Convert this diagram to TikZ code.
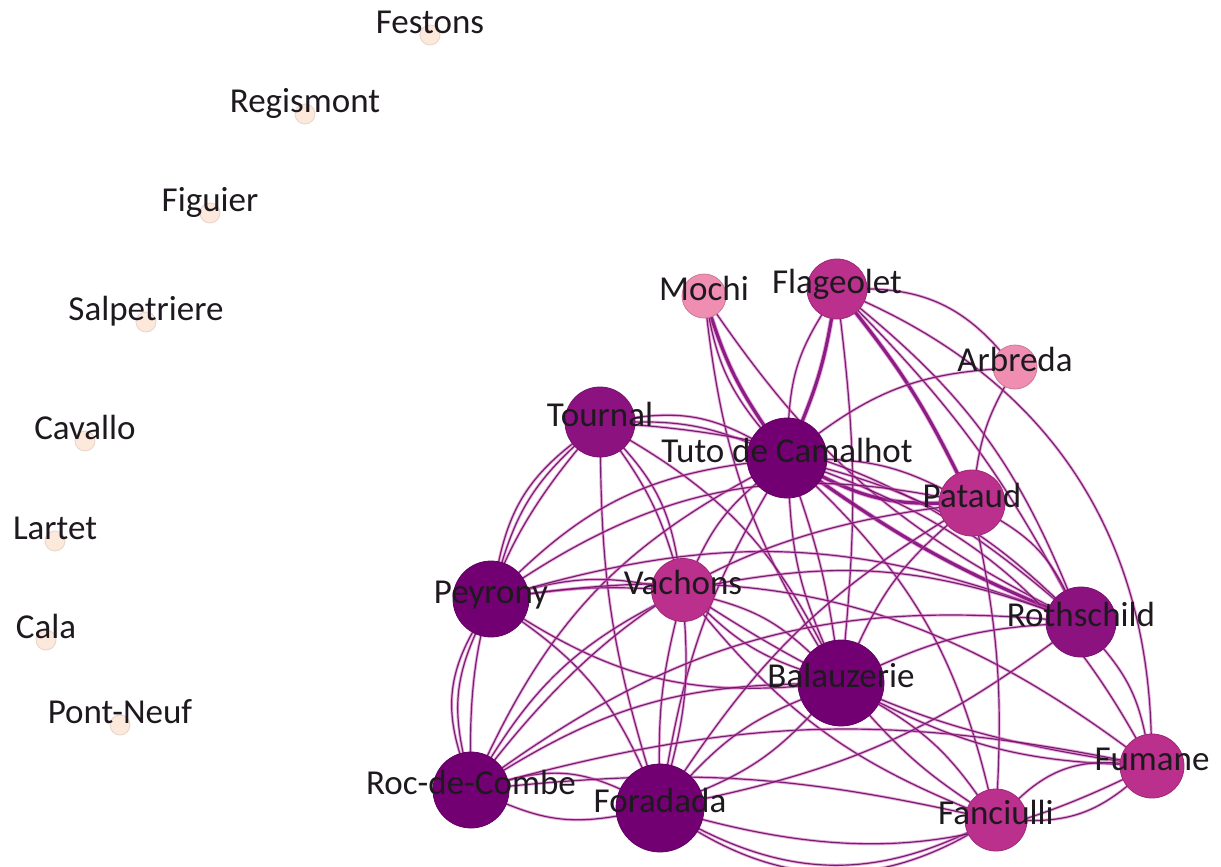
\documentclass[tikz,border=0pt]{standalone}
\usepackage{fontspec}
\setmainfont{Carlito}
\usetikzlibrary{backgrounds}
\definecolor{cdark}{RGB}{115,0,115}
\definecolor{cmid}{RGB}{140,18,128}
\definecolor{cmag}{RGB}{186,48,140}
\definecolor{clight}{RGB}{240,142,178}
\definecolor{ciso}{RGB}{252,233,220}
\definecolor{cisoline}{RGB}{232,212,200}
\definecolor{edgedark}{RGB}{105,18,100}
\definecolor{edgelight}{RGB}{220,90,190}
\definecolor{txt}{RGB}{30,25,30}
\begin{document}
\begin{tikzpicture}[x=1pt,y=-1pt,
  nd/.style={circle,inner sep=0pt,outer sep=0pt,line width=0.8pt},
  ndark/.style={nd,fill=cdark,draw=cdark!85!black},
  nmid/.style={nd,fill=cmid,draw=cmid!85!black},
  nmag/.style={nd,fill=cmag,draw=cmag!85!black},
  nlight/.style={nd,fill=clight,draw=clight!85!black},
  niso/.style={nd,fill=ciso,draw=cisoline,minimum size=20},
  lbl/.style={font=\fontsize{35}{38}\selectfont,text=txt,inner sep=0pt,
    text height=0.68em,text depth=0.2em,yshift=-2pt},
  isolbl/.style={lbl,yshift=6pt},
  lnk/.style={draw=edgedark,line width=1.2pt,opacity=0.9,
    preaction={draw=edgelight,line width=3pt,opacity=0.5}},
  lnkthick/.style={draw=edgedark!85!magenta,line width=3.2pt,opacity=0.9,
    preaction={draw=edgelight,line width=5pt,opacity=0.5}}]
\useasboundingbox (0,0) rectangle (1221,867);

% isolated nodes
\node[niso,label={[isolbl]center:Festons}] (fes) at (430,35) {};
\node[niso,label={[isolbl]center:Regismont}] (reg) at (305,114) {};
\node[niso,label={[isolbl]center:Figuier}] (fig) at (210,213) {};
\node[niso,label={[isolbl]center:Salpetriere}] (sal) at (146,322) {};
\node[niso,label={[isolbl]center:Cavallo}] (cav) at (85,441) {};
\node[niso,label={[isolbl]center:Lartet}] (lar) at (55,541) {};
\node[niso,label={[isolbl]center:Cala}] (cal) at (46,640) {};
\node[niso,label={[isolbl]center:Pont-Neuf}] (pon) at (120,725) {};

% network nodes
\node[nlight,minimum size=44,label={[lbl]center:Mochi}] (moc) at (704,296) {};
\node[nmag,minimum size=60,label={[lbl]center:Flageolet}] (fla) at (837,289) {};
\node[nlight,minimum size=44,label={[lbl]center:Arbreda}] (arb) at (1015,367) {};
\node[nmid,minimum size=70,label={[lbl]center:Tournal}] (tou) at (600,422) {};
\node[ndark,minimum size=80,label={[lbl]center:Tuto de Camalhot}] (tut) at (787,458) {};
\node[nmag,minimum size=66,label={[lbl]center:Pataud}] (pat) at (972,503) {};
\node[ndark,minimum size=76,label={[lbl]center:Peyrony}] (pey) at (491,599) {};
\node[nmag,minimum size=63,label={[lbl]center:Vachons}] (vac) at (683,590) {};
\node[nmid,minimum size=70,label={[lbl]center:Rothschild}] (rot) at (1081,622) {};
\node[ndark,minimum size=86,label={[lbl]center:Balauzerie}] (bal) at (841,683) {};
\node[ndark,minimum size=76,label={[lbl]center:Roc-de-Combe}] (rdc) at (471,790) {};
\node[ndark,minimum size=88,label={[lbl]center:Foradada}] (for) at (660,808) {};
\node[nmag,minimum size=64,label={[lbl]center:Fumane}] (fum) at (1152,766) {};
\node[nmag,minimum size=62,label={[lbl]center:Fanciulli}] (fan) at (996,820) {};

\begin{scope}[on background layer]
\fill[white] (0,0) rectangle (1221,867);
% Mochi
\draw[lnkthick] (moc) to[bend right=8] (tut);
\draw[lnk] (moc) to[bend right=14] (tut);
\draw[lnk] (moc) to[bend right=12] (bal);
\draw[lnk] (moc) to[bend right=14] (rot);
% Flageolet
\draw[lnkthick] (fla) to[bend left=6] (tut);
\draw[lnk] (tut) to[bend left=14] (fla);
\draw[lnk] (fla) to[bend left=24] (arb);
\draw[lnk] (fla) to[bend left=32] (fum);
\draw[lnkthick] (fla) to[bend left=6] (pat);
\draw[lnk] (fla) to[bend left=14] (rot);
\draw[lnk] (fla) to[bend left=8] (rot);
\draw[lnk] (fla) to[bend left=6] (bal);
% Arbreda
\draw[lnk] (tut) to[bend left=16] (arb);
\draw[lnk] (arb) to[bend right=10] (pat);
% Tournal
\draw[lnk] (pey) to[bend left=20] (tou);
\draw[lnk] (pey) to[bend left=15] (tou);
\draw[lnk] (rdc) to[bend left=20] (tou);
\draw[lnk] (tou) to[bend left=18] (tut);
\draw[lnk] (tou) to[bend left=11] (tut);
\draw[lnk] (tou) to[bend left=16] (vac);
\draw[lnk] (tou) to[bend left=9] (vac);
\draw[lnk] (tou) to[bend right=8] (for);
\draw[lnk] (tou) to[bend left=16] (bal);
\draw[lnk] (tou) to[bend left=18] (rot);
% Tuto
\draw[lnkthick] (pat) to[bend left=14] (tut);
\draw[lnk] (tut) to[bend left=12] (pat);
\draw[lnkthick] (rot) to[bend left=6] (tut);
\draw[lnk] (tut) to[bend left=14] (rot);
\draw[lnk] (tut) to[bend right=10] (bal);
\draw[lnk] (tut) to[bend left=5] (bal);
\draw[lnk] (tut) to[bend right=10] (for);
\draw[lnk] (pey) to[bend left=18] (tut);
\draw[lnk] (rdc) to[bend left=18] (tut);
\draw[lnk] (tut) to[bend left=16] (fan);
\draw[lnk] (tut) to[bend left=20] (fum);
\draw[lnk] (tut) to[bend right=12] (vac);
% Peyrony
\draw[lnk] (rdc) to[bend left=18] (pey);
\draw[lnk] (rdc) to[bend left=23] (pey);
\draw[lnk] (pey) to[bend left=12] (vac);
\draw[lnk] (pey) to[bend left=5] (vac);
\draw[lnk] (bal) to[bend left=18] (pey);
\draw[lnk] (pey) to[bend left=15] (for);
\draw[lnk] (pey) to[bend left=18] (rot);
\draw[lnk] (pey) to[bend left=22] (fum);
\draw[lnk] (pey) to[bend left=22] (pat);
% Vachons
\draw[lnk] (vac) to[bend left=9] (for);
\draw[lnk] (vac) to[bend right=7] (for);
\draw[lnk] (vac) to[bend left=14] (bal);
\draw[lnk] (vac) to[bend right=12] (bal);
\draw[lnk] (rdc) to[bend left=15] (vac);
\draw[lnk] (vac) to[bend left=15] (rot);
\draw[lnk] (vac) to[bend right=12] (fum);
\draw[lnk] (vac) to[bend right=14] (fan);
% Roc-de-Combe
\draw[lnk] (rdc) to[bend left=20] (for);
\draw[lnk] (for) to[bend left=16] (rdc);
\draw[lnk] (rdc) to[bend left=15] (bal);
\draw[lnk] (rdc) to[bend left=20] (rot);
\draw[lnk] (rdc) to[bend left=22] (pat);
\draw[lnk] (rdc) to[bend left=13] (fum);
\draw[lnk] (rdc) to[bend left=9] (fan);
% Foradada
\draw[lnk] (for) to[bend left=12] (bal);
\draw[lnk] (for) to[bend right=12] (bal);
\draw[lnk] (fan) to[bend left=26] (for);
\draw[lnk] (fan) to[bend left=30] (for);
\draw[lnk] (fum) to[bend left=20] (for);
\draw[lnk] (for) to[bend left=12] (pat);
\draw[lnk] (rot) to[bend left=12] (for);
% Balauzerie
\draw[lnk] (bal) to[bend left=12] (fan);
\draw[lnk] (bal) to[bend right=7] (fan);
\draw[lnk] (bal) to[bend right=12] (fum);
\draw[lnk] (bal) to[bend left=10] (rot);
\draw[lnk] (bal) to[bend left=12] (pat);
% Rothschild / Pataud / Fumane / Fanciulli
\draw[lnk] (rot) to[bend left=14] (fum);
\draw[lnk] (pat) to[bend left=16] (rot);
\draw[lnk] (pat) to[bend left=7] (fan);
\draw[lnk] (fan) to[bend left=24] (fum);
\draw[lnk] (fum) to[bend left=20] (fan);
\end{scope}
\end{tikzpicture}
\end{document}
